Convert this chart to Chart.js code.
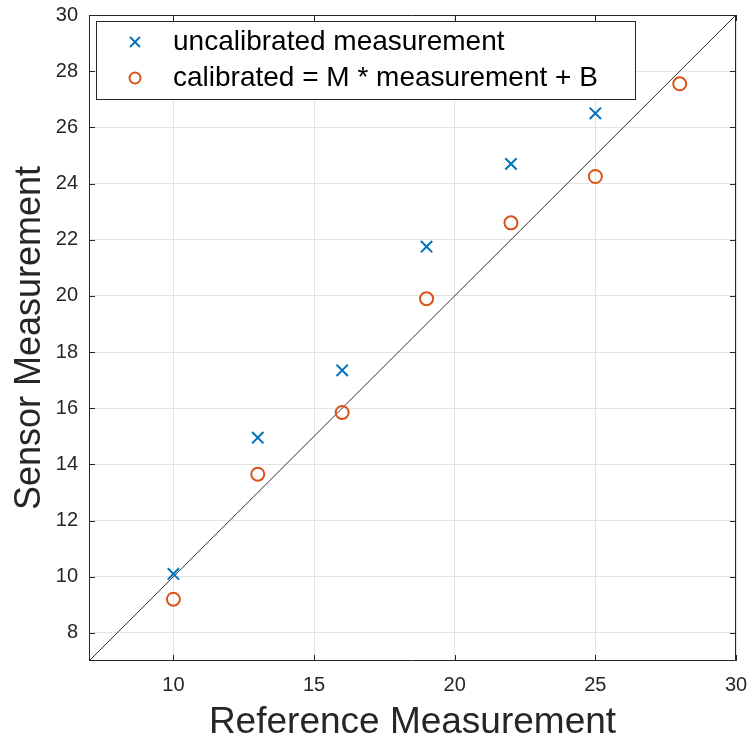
<!DOCTYPE html>
<html>
<head>
<meta charset="utf-8">
<script src="https://cdn.jsdelivr.net/npm/chart.js@4"></script>
<style>
  html, body { margin: 0; padding: 0; background: #fff; }
  canvas { display: block; }
</style>
</head>
<body>
<canvas id="chart-calib" width="748" height="738"></canvas>
<script>
// ---- data ----
const refValues = [10, 13, 16, 19, 22, 25, 28];
const uncalibrated = [10.1, 14.95, 17.35, 21.75, 24.7, 26.5];
const calibrated = [9.2, 13.65, 15.85, 19.9, 22.6, 24.25, 27.55];
const identityLine = [7, 30]; // y = x
const xTickValues = [10, 15, 20, 25, 30];
const yTickValues = [8, 10, 12, 14, 16, 18, 20, 22, 24, 26, 28, 30];
const legendLabels = ["uncalibrated measurement", "calibrated = M * measurement + B"];

const BLUE = "#0072BD";
const ORANGE = "#D95319";
const AXIS = "#262626";
const FONT = '"Liberation Sans", Arial, Helvetica, sans-serif';

const toPoints = (ys) => ys.map((y, i) => ({ x: refValues[i], y: y }));

// рамка и внутренние засечки как в MATLAB
const boxTicks = {
  id: "boxTicks",
  afterDraw(chart) {
    const { ctx, chartArea: a } = chart;
    const sx = chart.scales.x, sy = chart.scales.y;
    const len = 6;
    ctx.save();
    ctx.strokeStyle = AXIS;
    ctx.lineWidth = 1;
    ctx.beginPath();
    ctx.rect(a.left + 0.5, a.top + 0.5, a.right - a.left - 1, a.bottom - a.top - 1);
    xTickValues.forEach((v) => {
      const px = Math.round(sx.getPixelForValue(v)) + 0.5;
      ctx.moveTo(px, a.bottom); ctx.lineTo(px, a.bottom - len);
      ctx.moveTo(px, a.top); ctx.lineTo(px, a.top + len);
    });
    yTickValues.forEach((v) => {
      const py = Math.round(sy.getPixelForValue(v)) + 0.5;
      ctx.moveTo(a.left, py); ctx.lineTo(a.left + len, py);
      ctx.moveTo(a.right, py); ctx.lineTo(a.right - len, py);
    });
    ctx.stroke();
    ctx.restore();
  },
};

// легенда внутри области графика
const innerLegend = {
  id: "innerLegend",
  afterDatasetsDraw(chart) {
    const { ctx, chartArea: a } = chart;
    const bx = a.left + 7, by = a.top + 6, bw = 539, bh = 78;
    ctx.save();
    ctx.fillStyle = "#fff";
    ctx.fillRect(bx, by, bw, bh);
    ctx.strokeStyle = AXIS;
    ctx.lineWidth = 1;
    ctx.strokeRect(bx + 0.5, by + 0.5, bw, bh);

    const mx = bx + 39;
    const rows = [by + 21, by + 57];
    // крестик
    ctx.strokeStyle = BLUE;
    ctx.lineWidth = 1.8;
    ctx.beginPath();
    ctx.moveTo(mx - 5, rows[0] - 5); ctx.lineTo(mx + 5, rows[0] + 5);
    ctx.moveTo(mx + 5, rows[0] - 5); ctx.lineTo(mx - 5, rows[0] + 5);
    ctx.stroke();
    // кружок
    ctx.strokeStyle = ORANGE;
    ctx.lineWidth = 2;
    ctx.beginPath();
    ctx.arc(mx, rows[1], 5.5, 0, Math.PI * 2);
    ctx.stroke();

    ctx.fillStyle = "#000";
    ctx.font = "28px " + FONT;
    ctx.textBaseline = "middle";
    ctx.textAlign = "left";
    legendLabels.forEach((t, i) => ctx.fillText(t, bx + 77, rows[i]));
    ctx.restore();
  },
};

new Chart(document.getElementById("chart-calib"), {
  type: "scatter",
  data: {
    datasets: [
      {
        label: legendLabels[0],
        data: toPoints(uncalibrated),
        pointStyle: "crossRot",
        pointRadius: 8,
        pointHoverRadius: 8,
        borderColor: BLUE,
        borderWidth: 2,
      },
      {
        label: legendLabels[1],
        data: toPoints(calibrated),
        pointStyle: "circle",
        pointRadius: 6.5,
        pointHoverRadius: 6.5,
        backgroundColor: "transparent",
        borderColor: ORANGE,
        borderWidth: 2,
      },
      {
        type: "line",
        label: "y = x",
        data: identityLine.map((v) => ({ x: v, y: v })),
        borderColor: "#333",
        borderWidth: 1,
        pointRadius: 0,
        fill: false,
      },
    ],
  },
  plugins: [innerLegend, boxTicks],
  options: {
    responsive: false,
    animation: false,
    devicePixelRatio: 1,
    layout: { padding: { top: 15, right: 12, left: 0, bottom: 0 } },
    plugins: { legend: { display: false }, tooltip: { enabled: false } },
    scales: {
      x: {
        type: "linear",
        min: 7,
        max: 30,
        afterBuildTicks: (s) => { s.ticks = xTickValues.map((v) => ({ value: v })); },
        afterFit: (s) => { s.height = 77; s.paddingRight = 0; s.paddingLeft = 0; },
        grid: { color: "#e3e3e3", drawTicks: false },
        border: { display: false },
        ticks: { color: AXIS, padding: 12, font: { family: FONT, size: 20 } },
        title: {
          display: true,
          text: "Reference Measurement",
          color: AXIS,
          font: { family: FONT, size: 37, lineHeight: 0.8 },
          padding: { top: 0, bottom: 0 },
        },
      },
      y: {
        type: "linear",
        min: 7,
        max: 30,
        afterBuildTicks: (s) => { s.ticks = yTickValues.map((v) => ({ value: v })); },
        afterFit: (s) => { s.width = 89; s.paddingTop = 0; s.paddingBottom = 0; },
        grid: { color: "#e3e3e3", drawTicks: false },
        border: { display: false },
        ticks: { color: AXIS, padding: 11, font: { family: FONT, size: 20 } },
        title: {
          display: true,
          text: "Sensor Measurement",
          color: AXIS,
          font: { family: FONT, size: 36, lineHeight: 1 },
          padding: { top: 12, bottom: 0 },
        },
      },
    },
  },
});
</script>
</body>
</html>
